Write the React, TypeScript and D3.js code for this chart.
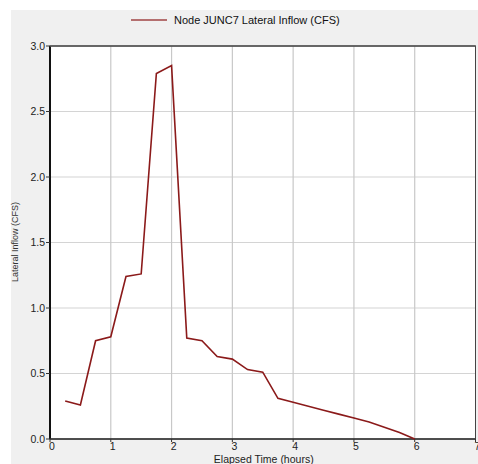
import React from "react";
import * as d3 from "d3";

const times = [0.25, 0.5, 0.75, 1.0, 1.25, 1.5, 1.75, 2.0, 2.25, 2.5, 2.75, 3.0, 3.25, 3.5, 3.75, 4.0, 4.25, 4.5, 4.75, 5.0, 5.25, 5.5, 5.75, 6.0];
const inflow = [0.29, 0.26, 0.75, 0.78, 1.24, 1.26, 2.79, 2.85, 0.77, 0.75, 0.63, 0.61, 0.53, 0.51, 0.31, 0.28, 0.25, 0.22, 0.19, 0.16, 0.13, 0.09, 0.05, 0.0];
const xTicks = [0, 1, 2, 3, 4, 5, 6, 7];
const yTicks = [0, 0.5, 1.0, 1.5, 2.0, 2.5, 3.0];
const seriesName = "Node JUNC7 Lateral Inflow (CFS)";
const xTitle = "Elapsed Time (hours)";
const yTitle = "Lateral Inflow (CFS)";

export default function App() {
  const W = 478, H = 464;
  const left = 50, right = 475.5, top = 46, bottom = 439;
  const x = d3.scaleLinear().domain([0, 7]).range([left, right]);
  const y = d3.scaleLinear().domain([0, 3]).range([bottom, top]);
  const pts = times.map((t, i) => [t, inflow[i]] as [number, number]);
  const line = d3.line<[number, number]>().x(d => x(d[0])).y(d => y(d[1]));
  const font = "Arial, 'Liberation Sans', sans-serif";
  const lineColor = "#8b1a1a";
  return (
    <svg width={W} height={H} style={{ position: "absolute", left: 0, top: 0 }} fontFamily={font}>
      <rect x={0} y={0} width={W} height={H} fill="#ffffff" />
      <rect x={11} y={10} width={W - 11} height={H - 10} fill="#f0f0f0" />
      <rect x={left} y={top} width={right - left} height={bottom - top} fill="#ffffff" />
      {yTicks.filter(v => v > 0 && v < 3).map(v => (
        <line key={"gy" + v} x1={left} x2={right} y1={y(v)} y2={y(v)} stroke="#d4d4d4" strokeWidth={1.2} />
      ))}
      {xTicks.filter(v => v > 0 && v < 7).map(v => (
        <line key={"gx" + v} x1={x(v)} x2={x(v)} y1={top} y2={bottom} stroke="#c8c8c8" strokeWidth={1.2} />
      ))}
      <rect x={left} y={top} width={right - left} height={bottom - top} fill="none" stroke="#444" strokeWidth={1} />
      <line x1={left} x2={left} y1={top} y2={bottom} stroke="#111" strokeWidth={2} />
      <line x1={left} x2={right} y1={bottom} y2={bottom} stroke="#333" strokeWidth={1.5} />
      <line x1={left} x2={right} y1={top} y2={top} stroke="#555" strokeWidth={1.5} />
      {yTicks.map(v => (
        <g key={"ty" + v}>
          <line x1={left - 4} x2={left} y1={y(v)} y2={y(v)} stroke="#333" strokeWidth={1} />
          <text x={left - 5} y={y(v) + 3.5} textAnchor="end" fontSize={10.5} fill="#222">{v.toFixed(1)}</text>
        </g>
      ))}
      {xTicks.map(v => (
        <g key={"tx" + v}>
          <line x1={x(v)} x2={x(v)} y1={bottom} y2={bottom + 3} stroke="#333" strokeWidth={1} />
          <text x={x(v) + 2} y={bottom + 11} textAnchor="middle" fontSize={10.5} fill="#222">{v}</text>
        </g>
      ))}
      <path d={line(pts) || ""} fill="none" stroke={lineColor} strokeWidth={1.6} strokeLinejoin="miter" />
      <line x1={131} x2={167} y1={20} y2={20} stroke="#a04545" strokeWidth={1.6} />
      <text x={174} y={24} fontSize={11} fill="#111">{seriesName}</text>
      <text x={(left + right) / 2 + 1} y={463} textAnchor="middle" fontSize={10.5} fill="#222">{xTitle}</text>
      <text transform={`translate(18, 242) rotate(-90)`} textAnchor="middle" fontSize={9} fill="#333">{yTitle}</text>
    </svg>
  );
}
